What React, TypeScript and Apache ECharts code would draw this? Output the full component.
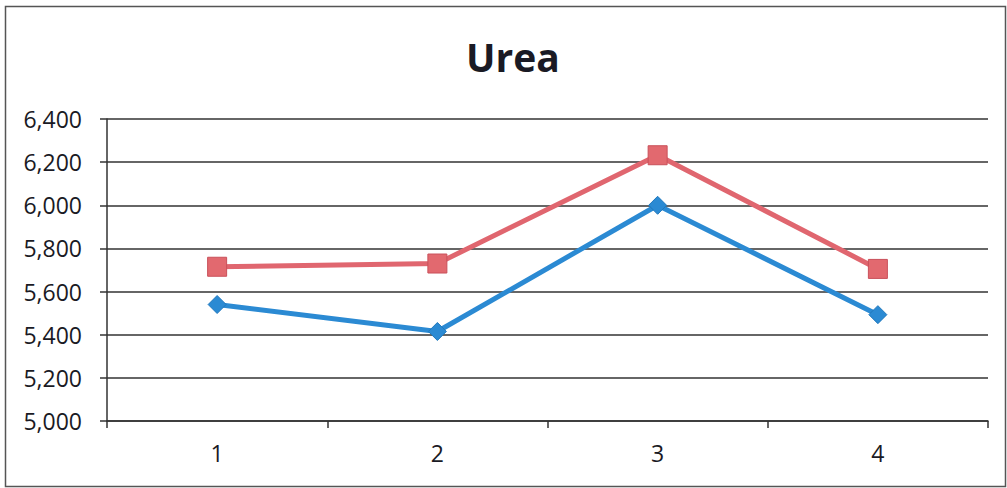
import React, { useEffect, useRef } from "react";
import * as echarts from "echarts";

const categories = ["1", "2", "3", "4"];
const seriesRed = [5715, 5730, 6232, 5705];
const seriesBlue = [5540, 5415, 6000, 5493];
const yMin = 5000;
const yMax = 6400;
const yInterval = 200;

export default function App() {
  const ref = useRef<HTMLDivElement>(null);
  useEffect(() => {
    document.body.style.margin = "0";
    const chart = echarts.init(ref.current!, null, { renderer: "svg" });
    const font = "'Open Sans', 'Liberation Sans', sans-serif";
    chart.setOption({
      animation: false,
      backgroundColor: "#ffffff",
      graphic: [
        {
          type: "rect",
          shape: { x: 5.5, y: 6.5, width: 1000, height: 480 },
          style: { fill: "none", stroke: "#555", lineWidth: 1.5 },
          silent: true,
        },
      ],
      title: {
        text: "Urea",
        left: 461,
        top: 32,
        textStyle: { fontFamily: font, fontSize: 39, fontWeight: "bold", color: "#1a1a24" },
      },
      grid: { left: 107, right: 19, top: 119, bottom: 67 },
      xAxis: {
        type: "category",
        data: categories,
        boundaryGap: true,
        axisLine: { lineStyle: { color: "#333", width: 1.5 } },
        axisTick: { show: true, length: 7, inside: false, lineStyle: { color: "#333", width: 1.5 } },
        axisLabel: { fontFamily: font, fontSize: 23, color: "#1a1a24", margin: 20 },
        splitLine: { show: false },
      },
      yAxis: {
        type: "value",
        min: yMin,
        max: yMax,
        interval: yInterval,
        axisLine: { show: true, lineStyle: { color: "#333", width: 1.5 } },
        axisTick: { show: true, length: 7, lineStyle: { color: "#333", width: 1.5 } },
        axisLabel: {
          fontFamily: font,
          fontSize: 23,
          color: "#1a1a24",
          margin: 25,
          formatter: (v: number) => v.toLocaleString("en-US"),
        },
        splitLine: { show: true, lineStyle: { color: "#333", width: 1.5 } },
      },
      series: [
        {
          type: "line",
          data: seriesBlue,
          symbol: "diamond",
          symbolSize: 18,
          lineStyle: { color: "#2b8ad3", width: 5 },
          itemStyle: { color: "#2b8ad3", borderColor: "#1f78bd", borderWidth: 1 },
          z: 3,
        },
        {
          type: "line",
          data: seriesRed,
          symbol: "rect",
          symbolSize: 19,
          lineStyle: { color: "#e0666f", width: 5 },
          itemStyle: { color: "#e2696f", borderColor: "#c9505a", borderWidth: 1 },
          z: 4,
        },
      ],
    });
    return () => chart.dispose();
  }, []);
  return <div ref={ref} style={{ position: "fixed", left: 0, top: 0, width: 1007, height: 488 }} />;
}
